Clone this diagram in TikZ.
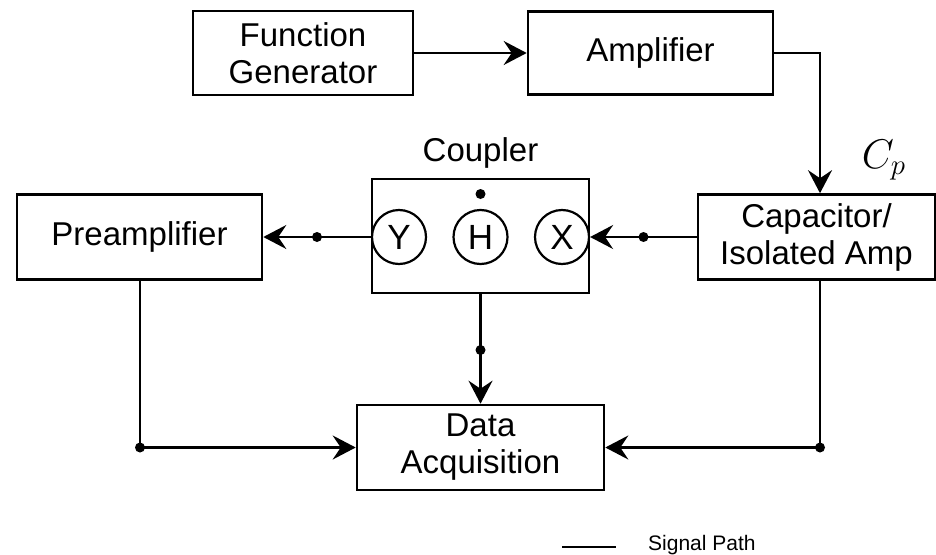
\documentclass[tikz,border=0pt]{standalone}
\usepackage{fontspec}
\setmainfont{Liberation Sans}
\usetikzlibrary{arrows.meta,calc}
\begin{document}
\begin{tikzpicture}[x=1pt,y=-1pt,
  font=\fontsize{33}{37}\selectfont,
  blk/.style={draw, line width=2.6pt, align=center, inner sep=0pt},
  port/.style={draw, circle, line width=2.2pt, minimum size=54pt, inner sep=0pt,
               font=\fontsize{35}{38}\selectfont},
  wire/.style={line width=2.4pt},
  sig/.style={wire, -{Stealth[length=23pt,width=24pt,inset=8pt]}},
  junction/.style={circle, fill=black, inner sep=0pt, minimum size=10pt}]
\useasboundingbox (0,0) rectangle (936,554);

% blocks
\node[blk, minimum width=220pt, minimum height=84pt] (fg)  at (303,53)    {Function\\Generator};
\node[blk, minimum width=245pt, minimum height=83pt] (amp) at (650.5,53)  {Amplifier};
\node[blk, minimum width=237pt, minimum height=85pt] (cap) at (816.5,237) {Capacitor/\\Isolated Amp};
\node[blk, minimum width=245pt, minimum height=85pt] (pre) at (139.5,237) {Preamplifier};
\node[blk, minimum width=217pt, minimum height=114pt] (coup) at (480.5,236) {};
\node[blk, minimum width=247pt, minimum height=85pt] (daq) at (480.5,447.5) {Data\\Acquisition};

% coupler ports
\node[port] (yp) at (399,237)   {Y};
\node[port] (hp) at (480.5,237) {H};
\node[port] (xp) at (562,237)   {X};
\node[junction] (hdot) at (480.5,194) {};
\node (clabel) at (480.5,153) {Coupler};
\node[scale=2, font=\fontsize{20}{24}\selectfont] (cp) at (884,160) {$C_p$};

% junction points
\coordinate (ampturn) at (820,53);
\node[junction] (dcap) at (643.5,237) {};
\node[junction] (dpre) at (317,237) {};
\node[junction] (dcoup) at (480.5,350) {};
\node[junction] (dleft) at (140,447.5) {};
\node[junction] (dright) at (820,447.5) {};

% signal connectors
\draw[sig] (fg.east) -- (amp.west);
\draw[sig] (amp.east) -- (ampturn) -- (ampturn |- cap.north);
\draw[sig] (cap.west) -- (xp.east);
\draw[sig] (yp.west) -- (pre.east);
\draw[sig] (coup.south) -- (daq.north);
\draw[wire] (pre.south -| dleft) -- (dleft.center);
\draw[sig] (dleft.center) -- (daq.west);
\draw[wire] (cap.south -| dright) -- (dright.center);
\draw[sig] (dright.center) -- (daq.east);

% legend
\coordinate (lg1) at (562,547);
\coordinate (lg2) at (616,547);
\draw[line width=2pt] (lg1) -- (lg2);
\node[anchor=base west, inner sep=0pt, font=\fontsize{21}{24}\selectfont] (lgtext) at (648,550) {Signal Path};
\end{tikzpicture}
\end{document}
